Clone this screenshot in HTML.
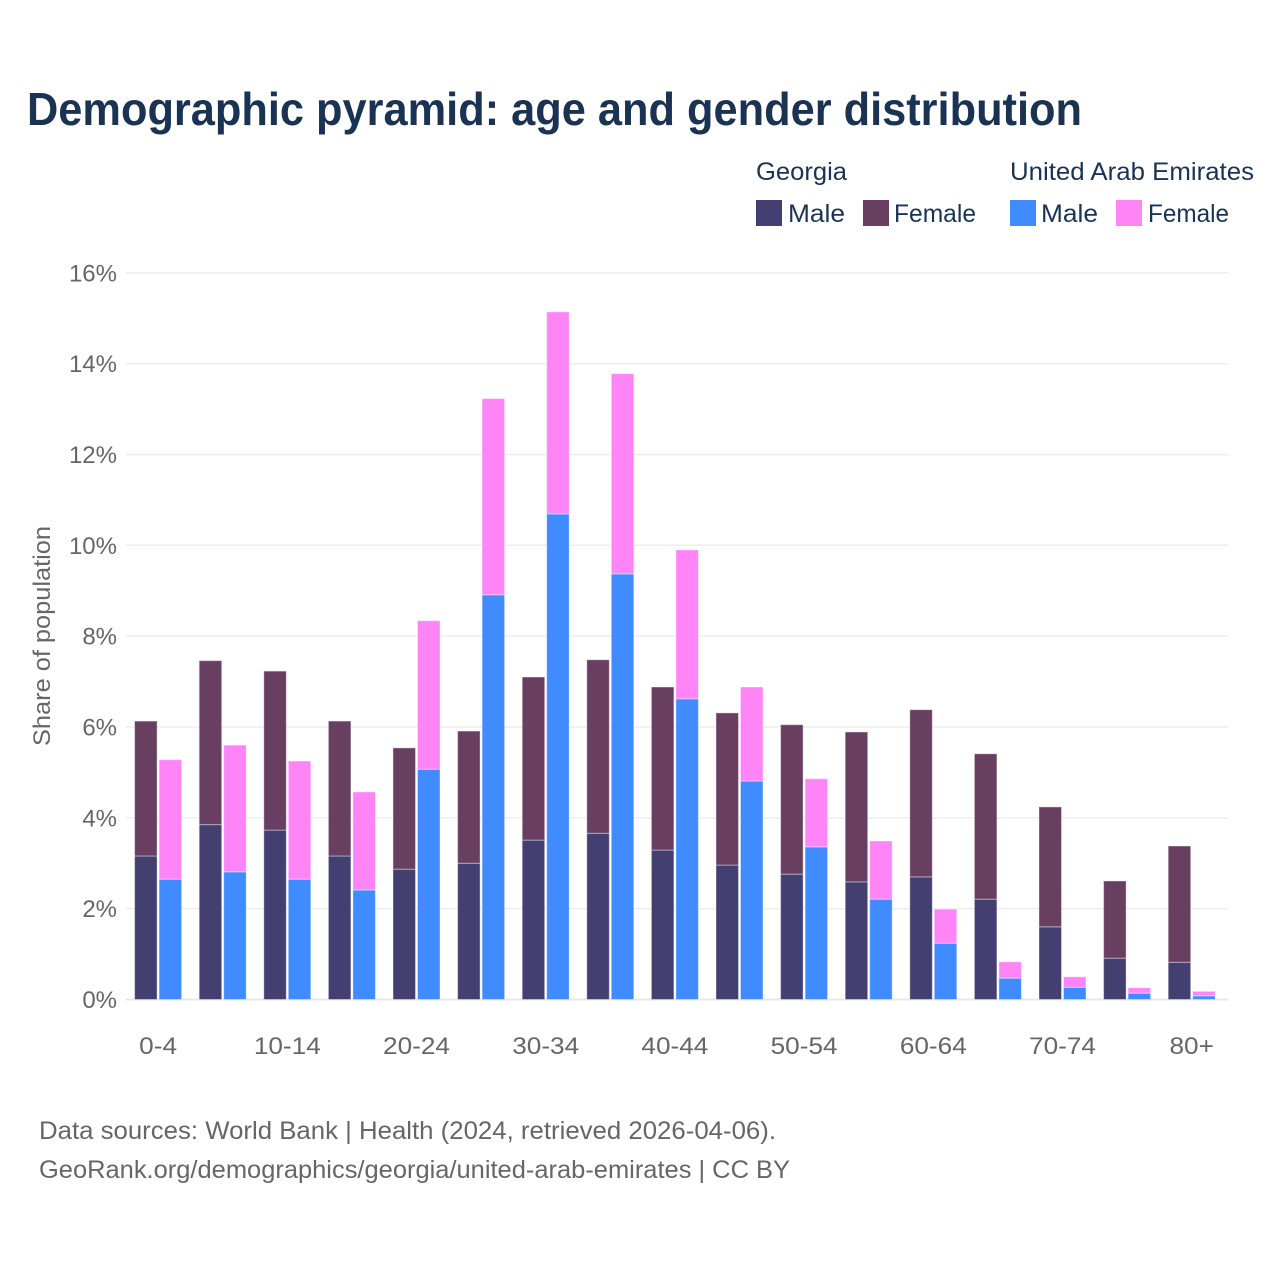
<!DOCTYPE html>
<html lang="en">
<head>
<meta charset="utf-8">
<title>Demographic pyramid: age and gender distribution</title>
<style>
html,body{margin:0;padding:0;background:#fff;width:1280px;height:1280px;overflow:hidden}
svg{display:block}
text{font-family:"Liberation Sans",sans-serif}
</style>
</head>
<body>
<svg id="chart" xmlns="http://www.w3.org/2000/svg" width="1280" height="1280" viewBox="0 0 1280 1280">
  <rect x="0" y="0" width="1280" height="1280" fill="#ffffff"/>
  <text x="27" y="125" font-size="46" font-weight="700" fill="#1a3353" textLength="1055" lengthAdjust="spacingAndGlyphs">Demographic pyramid: age and gender distribution</text>

  <g font-size="25" fill="#1a3353">
    <text x="756" y="180" textLength="91" lengthAdjust="spacingAndGlyphs">Georgia</text>
    <text x="1010" y="180" textLength="244" lengthAdjust="spacingAndGlyphs">United Arab Emirates</text>
    <rect x="756" y="200" width="26" height="26" fill="#433f70"/>
    <text x="788" y="222" textLength="57" lengthAdjust="spacingAndGlyphs">Male</text>
    <rect x="863" y="200" width="26" height="26" fill="#683f61"/>
    <text x="894" y="222" textLength="82" lengthAdjust="spacingAndGlyphs">Female</text>
    <rect x="1010" y="200" width="26" height="26" fill="#3f8bff"/>
    <text x="1041" y="222" textLength="57" lengthAdjust="spacingAndGlyphs">Male</text>
    <rect x="1116" y="200" width="26" height="26" fill="#ff85f7"/>
    <text x="1148" y="222" textLength="81" lengthAdjust="spacingAndGlyphs">Female</text>
  </g>

  <text transform="translate(50,636) rotate(-90)" text-anchor="middle" font-size="24" fill="#666666" textLength="220" lengthAdjust="spacingAndGlyphs">Share of population</text>

  <g id="grid"></g>
  <g id="yticks"></g>
  <g id="xticks"></g>
  <g id="bars"></g>

  <g font-size="25" fill="#666666">
    <text x="39" y="1139" textLength="737" lengthAdjust="spacingAndGlyphs">Data sources: World Bank | Health (2024, retrieved 2026-04-06).</text>
    <text x="39" y="1178" textLength="751" lengthAdjust="spacingAndGlyphs">GeoRank.org/demographics/georgia/united-arab-emirates | CC BY</text>
  </g>
</svg>
<script>
const ageGroups = ["0-4","5-9","10-14","15-19","20-24","25-29","30-34","35-39","40-44","45-49","50-54","55-59","60-64","65-69","70-74","75-79","80+"];
const georgiaMale = [3.16,3.85,3.73,3.16,2.87,3.00,3.51,3.66,3.29,2.96,2.76,2.59,2.70,2.21,1.60,0.91,0.82];
const georgiaFemale = [2.97,3.61,3.50,2.97,2.67,2.91,3.59,3.82,3.59,3.35,3.29,3.30,3.68,3.20,2.64,1.70,2.56];
const uaeMale = [2.65,2.81,2.65,2.41,5.07,8.91,10.69,9.37,6.62,4.81,3.36,2.21,1.24,0.47,0.27,0.14,0.08];
const uaeFemale = [2.63,2.79,2.60,2.16,3.27,4.32,4.45,4.41,3.28,2.07,1.50,1.28,0.75,0.36,0.23,0.12,0.10];
const yTicks = [0,2,4,6,8,10,12,14,16];
const xTickLabels = ["0-4","10-14","20-24","30-34","40-44","50-54","60-64","70-74","80+"];

const NS = "http://www.w3.org/2000/svg";
const plotLeft = 125.8, bandWidth = 64.6, gridRight = 1228;
const yZero = 999.5, pxPerUnit = 45.42;
const barWidth = 22.5, barOffset = 1.0;

function yScale(v){ return yZero - v * pxPerUnit; }
function xCenter(i){ return plotLeft + bandWidth * (i + 0.5); }

const gridLayer = document.getElementById("grid");
const yTickLayer = document.getElementById("yticks");
const xTickLayer = document.getElementById("xticks");
const barLayer = document.getElementById("bars");

yTicks.forEach(function(t){
  const line = document.createElementNS(NS, "line");
  
  
  line.setAttribute("x1", plotLeft);
  line.setAttribute("x2", gridRight);
  line.setAttribute("y1", yScale(t));
  line.setAttribute("y2", yScale(t));
  line.setAttribute("stroke", t === 0 ? "#e8e8e8" : "#eeeeee");
  line.setAttribute("stroke-width", t === 0 ? 2 : 1.5);
  gridLayer.appendChild(line);

  const label = document.createElementNS(NS, "text");
  
  
  label.setAttribute("x", 117);
  label.setAttribute("y", yScale(t) + 8.5);
  label.setAttribute("text-anchor", "end");
  label.setAttribute("font-size", "24");
  label.setAttribute("fill", "#666666");
  label.textContent = t + "%";
  yTickLayer.appendChild(label);
});

xTickLabels.forEach(function(name){
  const i = ageGroups.indexOf(name);
  const label = document.createElementNS(NS, "text");
  
  
  label.setAttribute("x", xCenter(i));
  label.setAttribute("y", 1054);
  label.setAttribute("text-anchor", "middle");
  label.setAttribute("font-size", "24");
  label.setAttribute("fill", "#666666");
  label.textContent = name;
  xTickLayer.appendChild(label);
  label.setAttribute("textLength", (label.getComputedTextLength() * 1.09).toFixed(1));
  label.setAttribute("lengthAdjust", "spacingAndGlyphs");
});

function addBar(x, base, value, color){
  const top = yScale(base + value);
  const rect = document.createElementNS(NS, "rect");
  
  
  rect.setAttribute("x", x);
  rect.setAttribute("y", top);
  rect.setAttribute("width", barWidth);
  rect.setAttribute("height", yScale(base) - top);
  rect.setAttribute("fill", color);
  rect.setAttribute("stroke", "#ffffff");
  rect.setAttribute("stroke-opacity", "0.4");
  rect.setAttribute("stroke-width", "1");
  barLayer.appendChild(rect);
}

ageGroups.forEach(function(_, i){
  const c = xCenter(i);
  const gx = c - barOffset - barWidth;
  const ux = c + barOffset;
  addBar(gx, 0, georgiaMale[i], "#433f70");
  addBar(gx, georgiaMale[i], georgiaFemale[i], "#683f61");
  addBar(ux, 0, uaeMale[i], "#3f8bff");
  addBar(ux, uaeMale[i], uaeFemale[i], "#ff85f7");
});
</script>
</body>
</html>
